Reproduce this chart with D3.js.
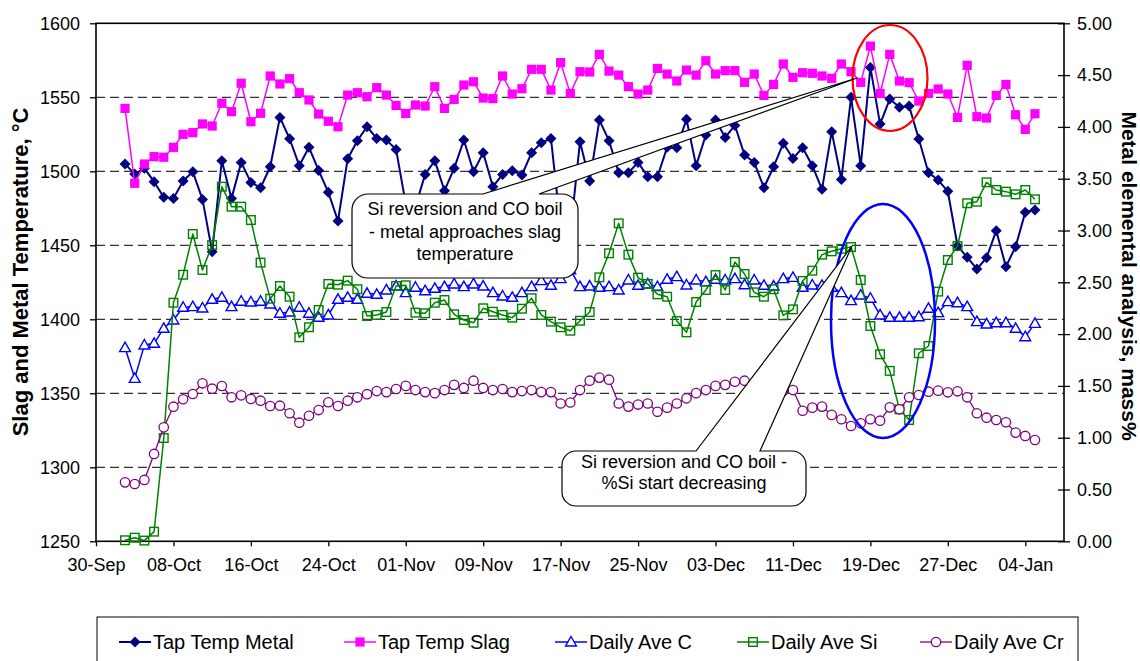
<!DOCTYPE html>
<html>
<head>
<meta charset="utf-8">
<script src="https://cdn.jsdelivr.net/npm/d3@7"></script>
<style>
  html, body { margin: 0; padding: 0; background: #fff; }
  svg { display: block; font-family: Arial, "Liberation Sans", sans-serif; }
</style>
</head>
<body>
<svg id="chart" width="1140" height="661"></svg>
<script>
// ---- data: one value per day, first sample on 03-Oct ----
const firstSample = "2007-10-03";
const axisFirstDay = "2007-09-30";
const axisLastDay = "2008-01-08";
const xTickLabels = ["30-Sep", "08-Oct", "16-Oct", "24-Oct", "01-Nov", "09-Nov", "17-Nov",
                     "25-Nov", "03-Dec", "11-Dec", "19-Dec", "27-Dec", "04-Jan"];
const tempTicks = [1250, 1300, 1350, 1400, 1450, 1500, 1550, 1600];
const massTicks = [0, 0.5, 1, 1.5, 2, 2.5, 3, 3.5, 4, 4.5, 5];

const tapTempMetal = [1505.0, 1498.1, 1502.0, 1493.0, 1482.4, 1481.7, 1493.4, 1499.7, 1481.0, 1445.7,
  1507.2, 1481.7, 1506.0, 1492.5, 1488.9, 1503.1, 1536.4, 1522.0, 1503.8, 1516.2,
  1500.6, 1485.8, 1466.4, 1508.5, 1520.7, 1530.1, 1522.2, 1521.1, 1514.8, 1478.0,
  1476.0, 1497.9, 1507.2, 1486.9, 1502.0, 1521.1, 1499.7, 1512.6, 1489.6, 1497.9,
  1500.4, 1497.5, 1512.6, 1519.3, 1522.2, 1462.0, 1458.0, 1520.0, 1493.4, 1534.6,
  1520.7, 1499.0, 1499.0, 1506.0, 1496.3, 1496.3, 1516.2, 1515.9, 1535.1, 1503.8,
  1524.5, 1534.6, 1522.9, 1531.0, 1511.0, 1506.0, 1488.9, 1503.1, 1518.9, 1508.7,
  1515.9, 1503.8, 1487.8, 1526.8, 1494.5, 1550.0, 1503.8, 1570.2, 1531.9, 1548.8,
  1543.2, 1544.1, 1521.8, 1499.0, 1494.1, 1486.5, 1449.5, 1441.9, 1434.0, 1441.6,
  1459.9, 1435.5, 1449.1, 1472.3, 1473.8];

const tapTempSlag = [1542.5, 1491.9, 1504.9, 1509.9, 1509.5, 1516.2, 1525.0, 1526.1, 1532.0, 1530.6,
  1546.0, 1540.3, 1559.5, 1533.5, 1539.2, 1564.4, 1559.0, 1562.6, 1553.1, 1548.2,
  1538.7, 1533.8, 1530.1, 1551.5, 1553.1, 1550.4, 1556.5, 1551.5, 1544.5, 1539.1,
  1544.8, 1544.1, 1557.2, 1542.5, 1548.6, 1558.3, 1560.5, 1549.5, 1549.1, 1564.4,
  1552.2, 1555.8, 1568.9, 1568.9, 1554.9, 1573.4, 1552.6, 1567.3, 1567.1, 1579.0,
  1567.7, 1565.0, 1557.2, 1552.2, 1554.9, 1569.5, 1565.7, 1561.0, 1568.4, 1565.0,
  1574.7, 1565.7, 1568.0, 1568.0, 1560.1, 1565.7, 1551.3, 1558.7, 1572.5, 1563.5,
  1566.6, 1566.2, 1564.4, 1562.8, 1572.5, 1567.3, 1560.1, 1584.6, 1552.6, 1579.0,
  1561.0, 1559.9, 1547.5, 1552.6, 1555.6, 1552.2, 1536.4, 1571.6, 1536.9, 1536.0,
  1551.3, 1558.7, 1538.2, 1528.3, 1538.9];

const dailyAveC = [1.869, 1.573, 1.895, 1.911, 2.056, 2.136, 2.259, 2.265, 2.252, 2.336,
  2.355, 2.265, 2.317, 2.310, 2.317, 2.291, 2.201, 2.213, 2.259, 2.201,
  2.162, 2.185, 2.336, 2.355, 2.336, 2.394, 2.384, 2.426, 2.464, 2.400,
  2.452, 2.419, 2.442, 2.458, 2.484, 2.458, 2.484, 2.464, 2.400, 2.368,
  2.355, 2.400, 2.458, 2.516, 2.471, 2.535, 2.620, 2.458, 2.464, 2.452,
  2.458, 2.426, 2.522, 2.471, 2.484, 2.458, 2.529, 2.555, 2.474, 2.522,
  2.506, 2.529, 2.522, 2.535, 2.477, 2.522, 2.471, 2.464, 2.535, 2.548,
  2.452, 2.474, 2.470, 2.452, 2.400, 2.323, 2.377, 2.346, 2.185, 2.162,
  2.162, 2.162, 2.168, 2.249, 2.207, 2.313, 2.303, 2.265, 2.120, 2.098,
  2.110, 2.110, 2.056, 1.975, 2.104];

const dailyAveSi = [0.010, 0.035, 0.007, 0.093, 0.997, 2.303, 2.573, 2.966, 2.619, 2.860,
  3.423, 3.230, 3.230, 3.101, 2.690, 2.342, 2.464, 2.361, 1.969, 2.066,
  2.233, 2.484, 2.477, 2.516, 2.433, 2.175, 2.185, 2.213, 2.464, 2.471,
  2.207, 2.201, 2.303, 2.329, 2.191, 2.136, 2.110, 2.249, 2.216, 2.185,
  2.159, 2.245, 2.346, 2.185, 2.120, 2.066, 2.033, 2.129, 2.213, 2.548,
  2.780, 3.069, 2.767, 2.545, 2.484, 2.384, 2.361, 2.126, 2.017, 2.310,
  2.426, 2.570, 2.426, 2.696, 2.580, 2.403, 2.361, 2.433, 2.181, 2.239,
  2.513, 2.612, 2.767, 2.799, 2.823, 2.840, 2.522, 2.078, 1.805, 1.645,
  1.274, 1.171, 1.815, 1.885, 2.410, 2.715, 2.850, 3.263, 3.278, 3.465,
  3.391, 3.375, 3.349, 3.391, 3.301];

const dailyAveCr = [0.569, 0.553, 0.592, 0.843, 1.100, 1.299, 1.371, 1.422, 1.525, 1.473,
  1.499, 1.390, 1.409, 1.374, 1.357, 1.306, 1.309, 1.236, 1.145, 1.212,
  1.267, 1.342, 1.306, 1.357, 1.390, 1.420, 1.450, 1.440, 1.470, 1.500,
  1.460, 1.440, 1.430, 1.460, 1.510, 1.480, 1.550, 1.480, 1.460, 1.470,
  1.440, 1.450, 1.460, 1.440, 1.440, 1.330, 1.340, 1.460, 1.550, 1.580,
  1.560, 1.330, 1.300, 1.320, 1.330, 1.250, 1.290, 1.330, 1.380, 1.430,
  1.460, 1.500, 1.510, 1.540, 1.550, 1.500, 1.470, 1.450, 1.450, 1.460,
  1.260, 1.290, 1.300, 1.220, 1.178, 1.113, 1.139, 1.178, 1.164, 1.293,
  1.274, 1.390, 1.412, 1.444, 1.454, 1.438, 1.448, 1.390, 1.236, 1.193,
  1.171, 1.149, 1.049, 1.017, 0.978];

// ---- layout ----
const plot = { left: 96, right: 1064, top: 23.3, bottom: 541.3 };
const svg = d3.select("#chart");
const parseDay = d3.utcParse("%Y-%m-%d");
const start = parseDay(firstSample);
const days = tapTempMetal.map((_, i) => d3.utcDay.offset(start, i));
const axisStart = parseDay(axisFirstDay), axisEnd = parseDay(axisLastDay);

const x = d3.scaleUtc().domain([axisStart, axisEnd]).range([plot.left, plot.right]);
const yTemp = d3.scaleLinear().domain([1250, 1600]).range([plot.bottom, plot.top]);
const yMass = d3.scaleLinear().domain([0, 5]).range([plot.bottom, plot.top]);

svg.append("rect").attr("width", 1140).attr("height", 661).attr("fill", "#fff");

// dashed gridlines on the temperature scale
svg.append("g").selectAll("line")
  .data(tempTicks.filter(t => t > 1250 && t < 1600))
  .join("line")
  .attr("x1", plot.left).attr("x2", plot.right)
  .attr("y1", d => yTemp(d)).attr("y2", d => yTemp(d))
  .attr("stroke", "#333").attr("stroke-width", 1.2).attr("stroke-dasharray", "9,5");

// ---- axes ----
const tickFont = 18;
const tickDates = d3.utcDay.range(axisStart, d3.utcDay.offset(axisEnd, 1)).filter((d, i) => i % 8 === 0).slice(0, xTickLabels.length);

const gx = svg.append("g").attr("transform", `translate(0,${plot.bottom})`)
  .call(d3.axisBottom(x).tickValues(tickDates).tickFormat((d, i) => xTickLabels[i]).tickSizeInner(5).tickSizeOuter(0).tickPadding(12));
const gl = svg.append("g").attr("transform", `translate(${plot.left},0)`)
  .call(d3.axisLeft(yTemp).tickValues(tempTicks).tickFormat(d3.format("d")).tickSizeInner(6).tickSizeOuter(0).tickPadding(10));
const gr = svg.append("g").attr("transform", `translate(${plot.right},0)`)
  .call(d3.axisRight(yMass).tickValues(massTicks).tickFormat(d3.format(".2f")).tickSizeInner(6).tickSizeOuter(0).tickPadding(7));
// right-axis ticks cross the axis line
gr.selectAll(".tick line").attr("x1", -6);

[gx, gl, gr].forEach(g => {
  g.selectAll("path.domain").remove();
  g.selectAll(".tick line").attr("stroke", "#000").attr("stroke-width", 1.3);
  g.selectAll("text").attr("font-size", tickFont).attr("fill", "#000")
    .attr("font-family", "Arial, 'Liberation Sans', sans-serif");
});

// plot frame
svg.append("rect")
  .attr("x", plot.left).attr("y", plot.top)
  .attr("width", plot.right - plot.left).attr("height", plot.bottom - plot.top)
  .attr("fill", "none").attr("stroke", "#000").attr("stroke-width", 1.6);

// axis titles
svg.append("text")
  .attr("transform", `translate(28,272) rotate(-90)`)
  .attr("text-anchor", "middle").attr("font-weight", "bold").attr("font-size", 22)
  .text("Slag and Metal Temperature, °C");
svg.append("text")
  .attr("transform", `translate(1122,276) rotate(90)`)
  .attr("text-anchor", "middle").attr("font-weight", "bold").attr("font-size", 21)
  .text("Metal elemental analysis, mass%");

// ---- series ----
const markerShapes = {
  diamond: (g, c) => g.append("path").attr("d", "M0,-5.5L5.5,0L0,5.5L-5.5,0Z").attr("fill", c),
  squareFilled: (g, c) => g.append("rect").attr("x", -4.6).attr("y", -4.6).attr("width", 9.2).attr("height", 9.2).attr("fill", c),
  triangleOpen: (g, c) => g.append("path").attr("d", "M0,-5.5L5.4,4L-5.4,4Z").attr("fill", "#fff").attr("stroke", c).attr("stroke-width", 1.4),
  squareOpen: (g, c) => g.append("rect").attr("x", -4.3).attr("y", -4.3).attr("width", 8.6).attr("height", 8.6).attr("fill", "none").attr("stroke", c).attr("stroke-width", 1.4),
  circleOpen: (g, c) => g.append("circle").attr("r", 4.7).attr("fill", "#fff").attr("stroke", c).attr("stroke-width", 1.3)
};

const series = [
  { name: "Tap Temp Metal", values: tapTempMetal, y: yTemp, color: "#000080", width: 2, marker: "diamond" },
  { name: "Tap Temp Slag", values: tapTempSlag, y: yTemp, color: "#FF00FF", width: 1.5, marker: "squareFilled" },
  { name: "Daily Ave C", values: dailyAveC, y: yMass, color: "#0000FF", width: 1.5, marker: "triangleOpen" },
  { name: "Daily Ave Si", values: dailyAveSi, y: yMass, color: "#008000", width: 1.5, marker: "squareOpen" },
  { name: "Daily Ave Cr", values: dailyAveCr, y: yMass, color: "#800080", width: 1.3, marker: "circleOpen" }
];

series.forEach(s => {
  const pts = s.values.map((v, i) => [x(days[i]), s.y(v)]);
  const g = svg.append("g");
  g.append("path").attr("d", d3.line()(pts))
    .attr("fill", "none").attr("stroke", s.color).attr("stroke-width", s.width).attr("stroke-linejoin", "round");
  pts.forEach(p => {
    const m = g.append("g").attr("transform", `translate(${p[0]},${p[1]})`);
    markerShapes[s.marker](m, s.color);
  });
});

// ---- highlight ellipses ----
svg.append("ellipse").attr("cx", 890).attr("cy", 78).attr("rx", 37.5).attr("ry", 53)
  .attr("fill", "none").attr("stroke", "#FF0000").attr("stroke-width", 2.2);
svg.append("ellipse").attr("cx", 883).attr("cy", 321).attr("rx", 52).attr("ry", 117)
  .attr("fill", "none").attr("stroke", "#0000FF").attr("stroke-width", 2.5);

// ---- callouts: rounded box with a wedge pointer on its top edge ----
function calloutPath(x0, y0, x1, y1, r, b1, b2, tip) {
  return `M${x0 + r},${y0} L${b1},${y0} L${tip[0]},${tip[1]} L${b2},${y0} L${x1 - r},${y0}` +
    ` A${r},${r} 0 0 1 ${x1},${y0 + r} L${x1},${y1 - r} A${r},${r} 0 0 1 ${x1 - r},${y1}` +
    ` L${x0 + r},${y1} A${r},${r} 0 0 1 ${x0},${y1 - r} L${x0},${y0 + r} A${r},${r} 0 0 1 ${x0 + r},${y0} Z`;
}
function callout(box, lines, lineY) {
  svg.append("path")
    .attr("d", calloutPath(box.x0, box.y0, box.x1, box.y1, box.r, box.b1, box.b2, box.tip))
    .attr("fill", "#fff").attr("stroke", "#000").attr("stroke-width", 1.2);
  const cx = (box.x0 + box.x1) / 2;
  lines.forEach((t, i) => svg.append("text")
    .attr("x", cx).attr("y", lineY[i]).attr("text-anchor", "middle")
    .attr("font-size", 18).attr("fill", "#000").text(t));
}
callout({ x0: 352, y0: 194, x1: 578, y1: 278, r: 16, b1: 483, b2: 539, tip: [857, 78] },
  ["Si reversion and CO boil", "- metal approaches slag", "temperature"], [215, 238, 260]);
callout({ x0: 562, y0: 451, x1: 806, y1: 506, r: 14, b1: 696, b2: 760, tip: [852, 246] },
  ["Si reversion and CO boil -", "%Si start decreasing"], [468, 489]);

// ---- legend ----
const legend = svg.append("g");
legend.append("rect").attr("x", 97).attr("y", 617).attr("width", 981).attr("height", 60)
  .attr("fill", "#fff").attr("stroke", "#000").attr("stroke-width", 1);
const legendX = [119, 344, 555, 737, 920];
series.forEach((s, i) => {
  const lx = legendX[i], ly = 642;
  legend.append("line").attr("x1", lx).attr("x2", lx + 32).attr("y1", ly).attr("y2", ly)
    .attr("stroke", s.color).attr("stroke-width", s.width);
  const m = legend.append("g").attr("transform", `translate(${lx + 16},${ly})`);
  markerShapes[s.marker](m, s.color);
  legend.append("text").attr("x", lx + 34).attr("y", ly + 7).attr("font-size", 20)
    .attr("fill", "#000").text(s.name);
});
</script>
</body>
</html>
